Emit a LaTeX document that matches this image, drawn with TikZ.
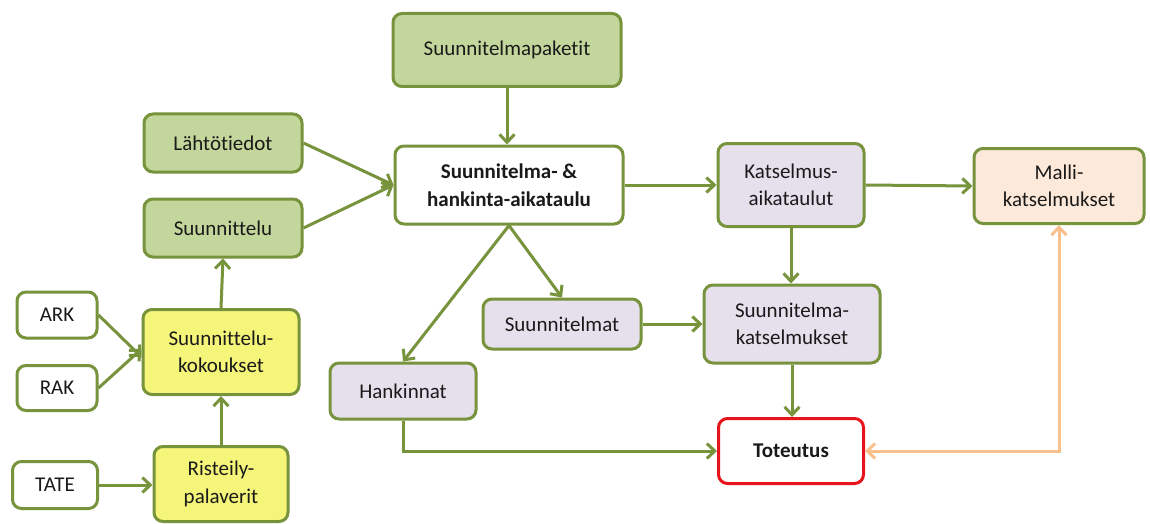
\documentclass[tikz,border=0pt]{standalone}
\usepackage{fontspec}
\setmainfont{Carlito}[Ligatures=NoCommon]
\usetikzlibrary{arrows.meta}
\definecolor{edgegreen}{HTML}{77933C}
\definecolor{boxgreen}{HTML}{C3D69B}
\definecolor{boxlilac}{HTML}{E5E0EC}
\definecolor{boxpeach}{HTML}{FDE9D9}
\definecolor{boxyellow}{HTML}{F5F57A}
\definecolor{linkorange}{HTML}{F9C08E}
\definecolor{alertred}{HTML}{E8141B}
\definecolor{inktext}{HTML}{1A1A1A}

\begin{document}
\begin{tikzpicture}[x=1pt,y=-1pt,
  box/.style={draw=edgegreen, line width=3pt, rounded corners=9pt,
    align=center, inner sep=0pt, text=inktext,
    font=\fontsize{21}{27.5}\selectfont},
  greenbox/.style={box, fill=boxgreen},
  lilacbox/.style={box, fill=boxlilac},
  whitebox/.style={box, fill=white},
  yellowbox/.style={box, fill=boxyellow},
  peachbox/.style={box, fill=boxpeach},
  keybox/.style={box, fill=white, font=\fontsize{21}{27.5}\selectfont\bfseries},
  flow/.style={draw=edgegreen, line width=3pt,
    -{Straight Barb[length=8pt,width=15pt,line width=3pt]}},
  backflow/.style={draw=linkorange, line width=3pt,
    {Straight Barb[length=8pt,width=15pt,line width=3pt]}-{Straight Barb[length=8pt,width=15pt,line width=3pt]}}
]
\fill[white] (0,0) rectangle (1150,524);
\useasboundingbox (0,0) rectangle (1150,524);

% planning inputs
\node[greenbox, minimum width=228pt, minimum height=73pt] (pak) at (507,50) {Suunnitelmapaketit};
\node[greenbox, minimum width=158pt, minimum height=58pt] (lah) at (223,143) {Lähtötiedot};
\node[greenbox, minimum width=158pt, minimum height=58pt] (suu) at (223,228) {Suunnittelu};

% schedule and reviews
\node[keybox, minimum width=228pt, minimum height=78pt] (main) at (509,185) {Suunnitelma- \&\\hankinta-aikataulu};
\node[lilacbox, minimum width=146pt, minimum height=83pt] (kat) at (791,185) {Katselmus-\\aikataulut};
\node[peachbox, minimum width=170pt, minimum height=75pt] (mal) at (1059,186) {Malli-\\katselmukset};
\node[lilacbox, minimum width=158pt, minimum height=50pt] (sma) at (562,324) {Suunnitelmat};
\node[lilacbox, minimum width=176pt, minimum height=78pt] (skat) at (792,324) {Suunnitelma-\\katselmukset};
\node[lilacbox, minimum width=146pt, minimum height=56pt] (han) at (403,391) {Hankinnat};
\node[keybox, draw=alertred, minimum width=145pt, minimum height=65pt] (tot) at (791,451) {Toteutus};

% design meetings
\node[whitebox, minimum width=80pt, minimum height=46pt] (ark) at (57,315) {ARK};
\node[whitebox, minimum width=80pt, minimum height=45pt] (rak) at (57,388) {RAK};
\node[whitebox, minimum width=85pt, minimum height=47pt] (tate) at (55,485) {TATE};
\node[yellowbox, minimum width=156pt, minimum height=85pt] (kok) at (221,352) {Suunnittelu-\\kokoukset};
\node[yellowbox, minimum width=134pt, minimum height=75pt] (ris) at (221,484) {Risteily-\\palaverit};

% connectors
\draw[flow] (pak.south) -- (pak.south |- main.north);
\draw[flow] (lah.east) -- (main.west);
\draw[flow] (suu.east) -- (main.west);
\draw[flow] (main.east) -- (kat.west);
\draw[flow] (kat.east) -- (mal.west);
\draw[flow] (kat.south) -- (kat.south |- skat.north);
\draw[flow] (sma.east) -- (skat.west);
\draw[flow] (skat.south) -- (skat.south |- tot.north);
\draw[flow] (main.south) -- (sma.north);
\draw[flow] (main.south) -- (han.north);
\draw[flow] (han.south) |- (tot.west);
\draw[backflow] (mal.south) |- (tot.east);
\draw[flow] (kok.north) -- (suu.south);
\draw[flow] (ris.north) -- (kok.south);
\draw[flow] (ark.east) -- ([yshift=-5pt]kok.west);
\draw[flow] (rak.east) -- ([yshift=3pt]kok.west);
\draw[flow] (tate.east) -- (tate.east -| ris.west);
\end{tikzpicture}
\end{document}
